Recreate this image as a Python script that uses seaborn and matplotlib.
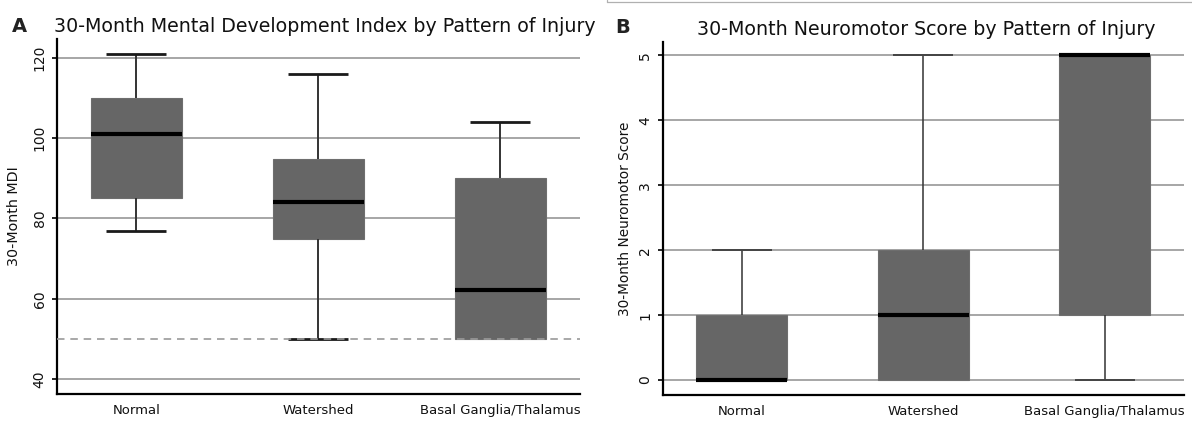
import numpy as np
import pandas as pd
import matplotlib
matplotlib.use("Agg")
import matplotlib.pyplot as plt
from matplotlib.lines import Line2D
import seaborn as sns

# Injury pattern groups (x categories)
categories = ["Normal", "Watershed", "Basal Ganglia/Thalamus"]

# 30-month MDI scores per group (five-number summaries: min, Q1, median, Q3, max)
mdi_normal = [77, 85, 101, 110, 121]
mdi_watershed = [50, 75, 84, 94.7, 116]
mdi_basal = [50, 50, 62.3, 90, 104]

# 30-month neuromotor scores per group
nm_normal = [0, 0, 0, 1, 2]
nm_watershed = [0, 0, 1, 2, 5]
nm_basal = [0, 1, 5, 5, 5]

mdi_ticks = [40, 60, 80, 100, 120]
nm_ticks = [0, 1, 2, 3, 4, 5]
mdi_cutoff = 50

sns.set_theme(style="white")
plt.rcParams["font.family"] = ["DejaVu Sans"]

BOX = "#666666"
GRID = "#8e8e8e"


def long_table(groups):
    rows = []
    for cat, vals in zip(categories, groups):
        for v in vals:
            rows.append({"group": cat, "score": v})
    return pd.DataFrame(rows)


def draw_panel(ax, df, groups, ylim, ticks, ylabel, ylabel_size, title,
               whisker_lw, cap_lw, cap_color):
    ax.set_axisbelow(True)
    ax.yaxis.grid(True, color=GRID, linewidth=1.1)
    ax.xaxis.grid(False)
    sns.boxplot(
        data=df, x="group", y="score", order=categories, ax=ax,
        width=0.5, color=BOX, saturation=1, linecolor="#222222",
        whis=1.5, showfliers=False, capwidths=0.33,
        boxprops=dict(facecolor=BOX, edgecolor="#6e6e6e", linewidth=0.8),
        medianprops=dict(color="black", linewidth=3.0, solid_capstyle="butt"),
        whiskerprops=dict(color="#333333", linewidth=whisker_lw),
        capprops=dict(color=cap_color, linewidth=cap_lw, solid_capstyle="butt"),
    )
    # hide caps that sit exactly on a box edge
    for line in ax.lines:
        xd, yd = np.asarray(line.get_xdata(), float), np.asarray(line.get_ydata(), float)
        if len(xd) == 2 and yd[0] == yd[1] and 0 < abs(xd[1] - xd[0]) < 0.45:
            idx = int(round(xd.mean()))
            q1, q3 = np.percentile(groups[idx], [25, 75])
            if np.isclose(yd[0], q1) or np.isclose(yd[0], q3):
                line.set_visible(False)

    ax.set_xlim(-0.435, 2.437)
    ax.set_ylim(*ylim)
    ax.set_yticks(ticks)
    ax.set_yticklabels([str(t) for t in ticks])
    ax.set_xlabel("")
    ax.set_ylabel(ylabel, fontsize=ylabel_size, color="#111111")
    for side in ("top", "right"):
        ax.spines[side].set_visible(False)
    for side in ("left", "bottom"):
        ax.spines[side].set_color("black")
        ax.spines[side].set_linewidth(1.6)
    ax.tick_params(axis="y", left=True, length=3.5, width=1.2, color="black",
                   pad=4, labelsize=10, labelrotation=90, labelcolor="#111111")
    for lbl in ax.get_yticklabels():
        lbl.set_va("center")
    ax.tick_params(axis="x", bottom=False, length=0, pad=7, labelsize=9.5,
                   labelcolor="#111111")
    ax.set_title(title, fontsize=13.7, color="#111111", pad=5)


fig = plt.figure(figsize=(11.92, 4.23), dpi=100)
ax_a = fig.add_axes([0.0478, 0.0686, 0.4388, 0.8392])
ax_b = fig.add_axes([0.5560, 0.0662, 0.4373, 0.8352])

mdi_groups = [mdi_normal, mdi_watershed, mdi_basal]
nm_groups = [nm_normal, nm_watershed, nm_basal]

draw_panel(ax_a, long_table(mdi_groups), mdi_groups, (36.3, 124.7), mdi_ticks,
           "30-Month MDI", 10.3, "30-Month Mental Development Index by Pattern of Injury",
           whisker_lw=1.4, cap_lw=2.0, cap_color="#1a1a1a")
ax_a.axhline(mdi_cutoff, color="#9a9a9a", linewidth=1.2, dashes=(4.5, 3.5), zorder=4)
ax_a.yaxis.set_label_coords(-0.068, 0.5)
ax_a.title.set_x(0.513)

draw_panel(ax_b, long_table(nm_groups), nm_groups, (-0.23, 5.21), nm_ticks,
           "30-Month Neuromotor Score", 9.8, "30-Month Neuromotor Score by Pattern of Injury",
           whisker_lw=1.1, cap_lw=1.4, cap_color="#444444")
ax_b.yaxis.set_label_coords(-0.059, 0.5)
ax_b.title.set_x(0.506)

# panel letters
fig.text(12 / 1192, 1 - 32 / 423, "A", fontsize=14, fontweight="bold",
         color="#222222", va="baseline", ha="left")
fig.text(615 / 1192, 1 - 33 / 423, "B", fontsize=14, fontweight="bold",
         color="#222222", va="baseline", ha="left")

# thin frame corner along the top of panel B
fig.add_artist(Line2D([607 / 1192, 1.0], [1 - 2.5 / 423, 1 - 2.5 / 423],
                      transform=fig.transFigure, color="#b0b0b0", linewidth=0.9))
fig.add_artist(Line2D([607 / 1192, 607 / 1192], [1.0, 1 - 2.5 / 423],
                      transform=fig.transFigure, color="#b0b0b0", linewidth=0.9))

fig.savefig("out.png", dpi=100, facecolor="white")
